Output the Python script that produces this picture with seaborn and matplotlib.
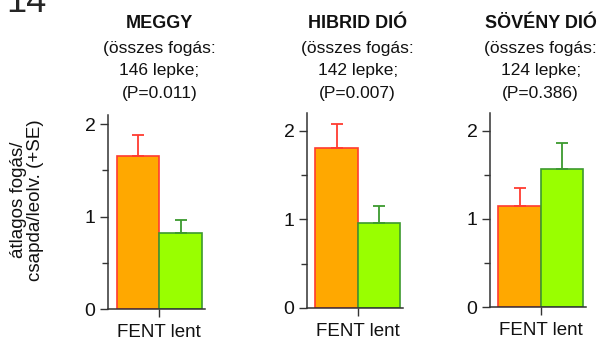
import seaborn as sns
import pandas as pd
import matplotlib.pyplot as plt
from matplotlib.ticker import MultipleLocator

panels = ["MEGGY", "HIBRID DIÓ", "SÖVÉNY DIÓ"]
totals = [146, 142, 124]
p_values = ["0.011", "0.007", "0.386"]
positions = ["FENT", "lent"]
means = [[1.66, 0.82], [1.81, 0.96], [1.15, 1.57]]
se = [[0.22, 0.14], [0.27, 0.19], [0.20, 0.29]]

fill_colors = ["#FFA800", "#99FF00"]
edge_colors = ["#FF3B30", "#3C9A2E"]

sns.set_theme(style="ticks")
plt.rcParams["font.family"] = ["Liberation Sans", "DejaVu Sans"]

W, H = 601, 346
fig = plt.figure(figsize=(W / 100, H / 100), dpi=100)

# axes boxes in pixels: left, right, bottom(y=0), top
boxes = [(108, 205, 309, 115), (307, 403, 308, 113), (490, 586, 307, 113)]
ylims = [2.1, 2.2, 2.2]

for i, name in enumerate(panels):
    l, r, b, t = boxes[i]
    ax = fig.add_axes([l / W, 1 - b / H, (r - l) / W, (b - t) / H])
    df = pd.DataFrame({"pos": positions, "mean": means[i], "se": se[i]})
    sns.barplot(data=df, x="pos", y="mean", hue="pos", palette=fill_colors,
                width=1.0, errorbar=None, legend=False, saturation=1, ax=ax)
    for j, patch in enumerate(ax.patches):
        patch.set_edgecolor(edge_colors[j])
        patch.set_linewidth(1.2)
        cx = patch.get_x() + patch.get_width() / 2
        ax.errorbar(cx, means[i][j], yerr=[[0], [se[i][j]]], fmt="none",
                    ecolor=edge_colors[j], elinewidth=1.3, capsize=4,
                    capthick=1.3, zorder=1)
    ax.set_xlim(-0.7, 1.57)
    ax.set_ylim(0, ylims[i])
    ax.set_xticks([0.5])
    ax.set_xticklabels(["FENT lent"], fontsize=13.5)
    ax.set_xlabel("")
    ax.set_ylabel("")
    ax.yaxis.set_major_locator(MultipleLocator(1))
    ax.yaxis.set_minor_locator(MultipleLocator(0.5))
    ax.tick_params(axis="both", which="major", length=6, width=1,
                   color="#333333", labelsize=14, pad=3, labelcolor="#111111")
    ax.tick_params(axis="x", labelsize=13.5, pad=5)
    ax.tick_params(axis="y", which="minor", length=4, width=1, color="#333333")
    for s in ["left", "bottom"]:
        ax.spines[s].set_color("#333333")
        ax.spines[s].set_linewidth(1.1)
    sns.despine(ax=ax)

    tx = (l + (0.5 + 0.7) / 2.27 * (r - l)) / W
    fig.text(tx, 1 - 23 / H, name, ha="center", va="center",
             fontsize=13, fontweight="bold", color="#111111")
    fig.text(tx, 1 - 71 / H,
             "(összes fogás:\n%d lepke;\n(P=%s)" % (totals[i], p_values[i]),
             ha="center", va="center", fontsize=12.5, linespacing=1.6,
             color="#111111")

fig.text(27 / W, 1 - 200 / H, "átlagos fogás/\ncsapda/leolv. (+SE)",
         rotation=90, ha="center", va="center", fontsize=13.5,
         linespacing=0.95, color="#111111")
fig.text(6 / W, 1 - 12 / H, "14", ha="left", va="baseline", fontsize=26)

fig.savefig("out.png", dpi=100)
